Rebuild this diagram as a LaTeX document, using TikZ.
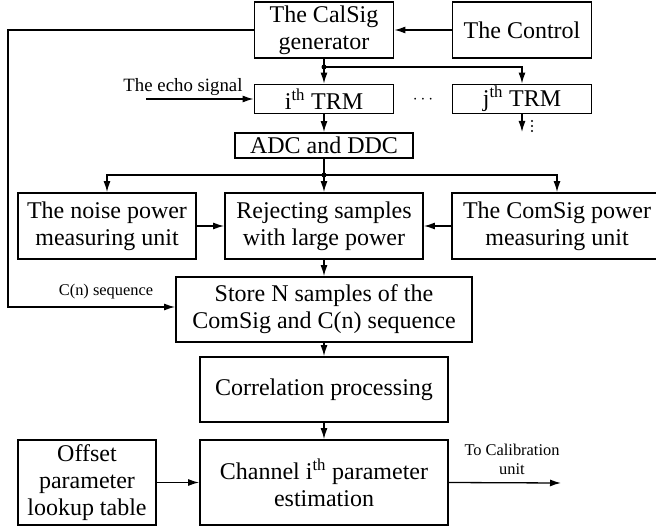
\documentclass[tikz,border=0pt]{standalone}
\usepackage{fontspec}
\setmainfont{Liberation Serif}
\usetikzlibrary{arrows.meta,positioning}

\tikzset{
  blk/.style={draw, line width=1.8pt, inner sep=0pt, align=center, font=\fontsize{24}{27}\selectfont},
  con/.style={line width=1.3pt},
  arr/.style={con, -{Latex[length=11pt,width=7pt]}},
  lbl/.style={inner sep=0pt, align=center, font=\fontsize{16.4}{19}\selectfont},
  jdot/.style={circle, fill, inner sep=0pt, minimum size=5pt},
}

\begin{document}
\begin{tikzpicture}[x=1pt, y=-1pt]
\useasboundingbox (0,0) rectangle (656,532);
% generator and TRMs
\node[blk, minimum width=139pt, minimum height=56pt] (calsig) at (324,30) {The CalSig\\generator};
\node[blk, minimum width=139pt, minimum height=56pt] (control) at (522,30) {The Control};
\node[blk, minimum width=139pt, minimum height=29pt] (itrm) at (324,99) {i\textsuperscript{th} TRM};
\node[blk, minimum width=139pt, minimum height=29pt] (jtrm) at (522,99) {j\textsuperscript{th} TRM};
\node[inner sep=0pt, font=\fontsize{18}{18}\selectfont] (hdots) at (423,100) {$\cdots$};
\foreach \y in {121,126,131}
  \fill (532,\y) circle (1.2pt);
\node[blk, minimum width=178pt, minimum height=25pt] (adc) at (324,145.5) {ADC and DDC};
% power measuring
\node[blk, minimum width=178pt, minimum height=66pt] (noise) at (107,226) {The noise power\\measuring unit};
\node[blk, minimum width=198pt, minimum height=66pt] (reject) at (324,226) {Rejecting samples\\with large power};
\node[blk, minimum width=210pt, minimum height=66pt] (comsig) at (557,226) {The ComSig power\\measuring unit};
% estimation chain
\node[blk, minimum width=296pt, minimum height=65pt] (store) at (324,309.5) {Store N samples of the\\ComSig and C(n) sequence};
\node[blk, minimum width=248pt, minimum height=65pt] (corr) at (324,389.5) {Correlation processing};
\node[blk, minimum width=248pt, minimum height=85pt] (chan) at (324,482.5) {Channel i\textsuperscript{th} parameter\\estimation};
\node[blk, minimum width=138pt, minimum height=85pt] (offset) at (87,482.5) {Offset\\parameter\\lookup table};

\coordinate (sp1) at (324,67);
\coordinate (sp2) at (324,175);
\coordinate (echo) at (146,99);
\coordinate (jout) at (522,132);
\coordinate (cn) at (8,307);
\coordinate (cal) at (561,483);

\draw[arr] (control.west) -- (calsig.east);
\draw[con] (calsig.south) -- (sp1);
\draw[arr] (sp1) -- (itrm.north);
\draw[arr] (sp1) -| (jtrm.north);
\node[jdot] (d1) at (sp1) {};
\draw[arr] (echo) -- (itrm.west);
\node[lbl, font=\fontsize{18.8}{20}\selectfont] (echolbl) at (183,87) {The echo signal};
\draw[arr] (jtrm.south) -- (jout);
\draw[arr] (itrm.south) -- (adc.north);
\draw[con] (adc.south) -- (sp2);
\draw[arr] (sp2) -| (noise.north);
\draw[arr] (sp2) -| (comsig.north);
\draw[arr] (sp2) -- (reject.north);
\node[jdot] (d2) at (sp2) {};
\draw[arr] (noise.east) -- (reject.west);
\draw[arr] (comsig.west) -- (reject.east);
\draw[arr] (reject.south) -- (store.north);
\draw[arr] (calsig.west) -| (cn) -- (cn -| store.west);
\node[lbl] (cnlbl) at (106,292) {C(n) sequence};
\draw[arr] (store.south) -- (corr.north);
\draw[arr] (corr.south) -- (chan.north);
\draw[arr] (offset.east) -- (chan.west);
\draw[arr] (chan.east) -- (cal);
\node[lbl] (callbl) at (512,459.5) {To Calibration\\unit};
\end{tikzpicture}
\end{document}
